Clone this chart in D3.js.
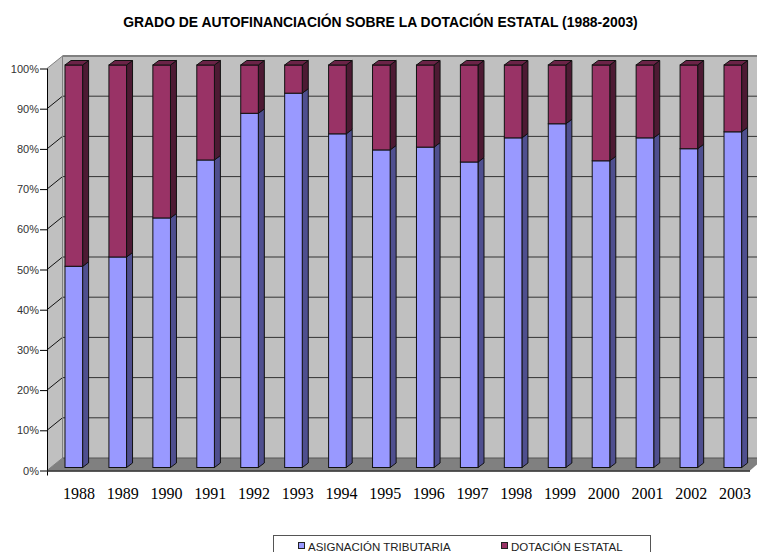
<!DOCTYPE html>
<html>
<head>
<meta charset="utf-8">
<script src="https://cdn.jsdelivr.net/npm/d3@7/dist/d3.min.js"></script>
<style>
html,body{margin:0;padding:0;background:#fff;overflow:hidden}
svg{display:block}
</style>
</head>
<body>
<svg id="chart" width="757" height="552"></svg>
<script>
const years = ["1988","1989","1990","1991","1992","1993","1994","1995","1996","1997","1998","1999","2000","2001","2002","2003"];
const asignacion = [50.0,52.3,62.0,76.4,88.0,93.0,82.9,78.9,79.6,75.9,81.9,85.4,76.2,81.9,79.2,83.4];
const seriesNames = ["ASIGNACIÓN TRIBUTARIA","DOTACIÓN ESTATAL"];
const yTicks = [0,10,20,30,40,50,60,70,80,90,100];
const titleText = "GRADO DE AUTOFINANCIACIÓN SOBRE LA DOTACIÓN ESTATAL (1988-2003)";

const svg = d3.select("#chart");
const FONT = "'Liberation Sans', Arial, sans-serif";

// Oblique box: front plane at the axis, back wall shifted up and to the right
const y = d3.scaleLinear().domain([0,100]).range([470.5,68.5]);
const depthX = 15.5, depthY = 12.5;
const x0 = 47, x1 = 750;
const barY = d3.scaleLinear().domain([0,100]).range([467.5,65]);
const barW = 17.6;
const xPos = d3.scalePoint().domain(years).range([65,724]);
const labelPos = d3.scalePoint().domain(years).range([79,735]);
const barDX = 6, barDY = 4.5;

const poly = pts => pts.map(p=>p.join(",")).join(" ");

// back wall
svg.append("polygon")
  .attr("points", poly([[x0+depthX,y(100)-depthY],[757,y(100)-depthY],[757,y(0)-depthY],[x0+depthX,y(0)-depthY]]))
  .attr("fill","#c0c0c0");
// side wall
svg.append("polygon")
  .attr("points", poly([[x0,y(0)],[x0,y(100)],[x0+depthX,y(100)-depthY],[x0+depthX,y(0)-depthY]]))
  .attr("fill","#c0c0c0");
// floor
svg.append("polygon")
  .attr("points", poly([[x0,y(0)],[x0+depthX,y(0)-depthY],[757,y(0)-depthY],[757,y(0)-6],[x1,y(0)]]))
  .attr("fill","#808080");

// gridlines across the wall, slanting back from each tick
const grid = svg.append("g");
yTicks.forEach(t=>{
  if(t>0 && t<100){
    grid.append("line").attr("x1",x0+depthX).attr("x2",757)
      .attr("y1",y(t)-depthY).attr("y2",y(t)-depthY)
      .attr("stroke","#333").attr("stroke-width",1);
  }
  if(t>0){
    grid.append("line").attr("x1",x0).attr("x2",x0+depthX)
      .attr("y1",y(t)).attr("y2",y(t)-depthY)
      .attr("stroke",t===100?"#808080":"#111").attr("stroke-width",1);
  }
});
// wall outlines
svg.append("line").attr("x1",x0+depthX).attr("x2",757).attr("y1",y(100)-depthY).attr("y2",y(100)-depthY).attr("stroke","#808080").attr("stroke-width",2);
svg.append("line").attr("x1",x0+depthX).attr("x2",x0+depthX).attr("y1",y(100)-depthY).attr("y2",y(0)-depthY).attr("stroke","#808080").attr("stroke-width",1);
svg.append("line").attr("x1",x0+depthX).attr("x2",757).attr("y1",y(0)-depthY).attr("y2",y(0)-depthY).attr("stroke","#555").attr("stroke-width",1);
svg.append("line").attr("x1",x0).attr("x2",x0+depthX).attr("y1",y(0)).attr("y2",y(0)-depthY).attr("stroke","#808080").attr("stroke-width",1);

// y axis and ticks
const axis = svg.append("g").attr("transform",`translate(${x0},0)`)
  .call(d3.axisLeft(y).tickValues(yTicks).tickFormat(d=>d+"%").tickSize(7).tickPadding(1));
axis.select(".domain").remove();
axis.selectAll("line").attr("stroke","#000");
axis.selectAll("text").attr("font-family",FONT).attr("font-size",11).attr("fill","#333");
svg.append("line").attr("x1",x0+0.5).attr("x2",x0+0.5).attr("y1",y(100)).attr("y2",y(0)+5).attr("stroke","#000");
svg.append("line").attr("x1",x0).attr("x2",x1).attr("y1",y(0)+0.5).attr("y2",y(0)+0.5).attr("stroke","#222").attr("stroke-width",1.6);

// stacked bars
const colors = [
  {front:"#9999ff",side:"#4f4f8f",top:"#7a7acc"},
  {front:"#993366",side:"#4d1a33",top:"#6b2347"}
];
const stroke = "#111";
const bars = svg.append("g").selectAll("g").data(years).join("g");
bars.each(function(yr,i){
  const g = d3.select(this);
  const left = xPos(yr), right = left+barW;
  const segs = [[0,asignacion[i],colors[0]],[asignacion[i],100,colors[1]]];
  segs.forEach(([a,b,c])=>{
    const yb = barY(a), yt = barY(b);
    g.append("polygon").attr("points",poly([[right,yb],[right+barDX,yb-barDY],[right+barDX,yt-barDY],[right,yt]]))
      .attr("fill",c.side).attr("stroke",stroke).attr("stroke-width",1);
    g.append("rect").attr("x",left).attr("y",yt).attr("width",barW).attr("height",yb-yt)
      .attr("fill",c.front).attr("stroke",stroke).attr("stroke-width",1);
  });
  const yt = barY(100);
  g.append("polygon").attr("points",poly([[left,yt],[left+barDX,yt-barDY],[right+barDX,yt-barDY],[right,yt]]))
    .attr("fill",colors[1].top).attr("stroke",stroke).attr("stroke-width",1);
});

// year labels
svg.append("g").selectAll("text").data(years).join("text")
  .attr("x",d=>labelPos(d)).attr("y",499).attr("text-anchor","middle")
  .attr("font-family","'Liberation Serif','Times New Roman',serif").attr("font-size",16).attr("fill","#000").text(d=>d);

// title
svg.append("text").attr("x",380.5).attr("y",27).attr("text-anchor","middle")
  .attr("font-family",FONT).attr("font-weight","bold").attr("font-size",13.9).attr("fill","#000").text(titleText);

// legend, running off the lower edge
svg.append("rect").attr("x",273.5).attr("y",535.5).attr("width",377).attr("height",30).attr("fill","#fff").attr("stroke","#555");
seriesNames.forEach((n,i)=>{
  const lx=[298.5,501.5][i];
  svg.append("rect").attr("x",lx).attr("y",542.5).attr("width",6).attr("height",6).attr("fill",colors[i].front).attr("stroke","#222");
  svg.append("text").attr("x",lx+9.5).attr("y",551).attr("font-family",FONT).attr("font-size",11.5).attr("fill","#222").text(n);
});
</script>
</body>
</html>
